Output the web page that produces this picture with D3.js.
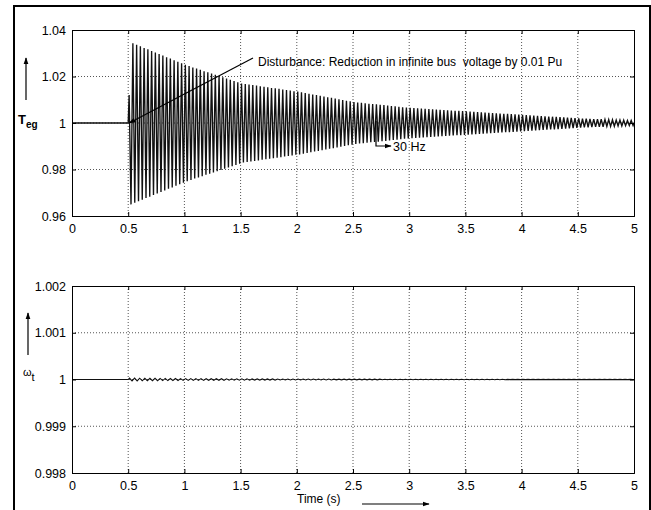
<!DOCTYPE html>
<html>
<head>
<meta charset="utf-8">
<script src="https://cdn.jsdelivr.net/npm/d3@7"></script>
<style>
  body { margin: 0; background: #fff; }
  svg { font-family: "Liberation Sans", Arial, sans-serif; }
  .grid line { stroke: #555; stroke-width: 1; stroke-dasharray: 1,2; }
  .tick text { font-size: 12.5px; fill: #000; }
</style>
</head>
<body>
<svg id="chart" width="651" height="510"></svg>
<script>
// axis ticks
const timeTicks = [0, 0.5, 1, 1.5, 2, 2.5, 3, 3.5, 4, 4.5, 5];
const tegTicks = [0.96, 0.98, 1, 1.02, 1.04];
const omegaTicks = [0.998, 0.999, 1, 1.001, 1.002];

// disturbance time and oscillation frequencies
const tDist = 0.5;
const tegFreq = 30;
const omegaFreq = 22;
const tegFirstPeak = 1.012;

// T_eg peak amplitude per cycle (pu)
const tegAmp = [
  .035, .0343, .0337, .033, .0323, .0317, .031, .0303, .0297, .029, .0283, .0277, .027, .0263, .0257,
  .025, .0245, .0239, .0234, .0229, .0223, .0218, .0213, .0207, .0202, .0197, .0191, .0186, .0181, .0175,
  .017, .0168, .0165, .0163, .0161, .0158, .0156, .0154, .0151, .0149, .0147, .0144, .0142, .014, .0137,
  .0135, .0132, .0129, .0126, .0123, .012, .0117, .0114, .0111, .0108, .0105, .0102, .0099, .0096, .0093,
  .009, .0088, .0087, .0085, .0083, .0082, .008, .0078, .0077, .0075, .0073, .0072, .007, .0068, .0067,
  .0065, .0064, .0063, .0062, .0061, .006, .0059, .0058, .0057, .0056, .0055, .0054, .0053, .0052, .0051,
  .005, .0049, .0048, .0047, .0046, .0045, .0044, .0043, .0042, .0041, .004, .0039, .0038, .0037, .0036,
  .0035, .0034, .0033, .0032, .0031, .003, .0029, .0028, .0027, .0026, .0025, .0024, .0023, .0022, .0021,
  .002, .0019, .0019, .0018, .0017, .0017, .0016, .0015, .0015, .0014, .0013, .0013, .0012, .0011, .0011
];

// omega_t peak amplitude per cycle (x 1e-5 pu)
const omegaAmp = [
  3.0, 2.9, 2.8, 2.7, 2.6, 2.5, 2.4, 2.3, 2.2, 2.1, 2.0,
  1.95, 1.9, 1.85, 1.8, 1.75, 1.7, 1.65, 1.6, 1.55, 1.5, 1.45,
  1.4, 1.36, 1.32, 1.28, 1.24, 1.2, 1.16, 1.12, 1.08, 1.04, 1.0,
  .98, .96, .94, .92, .9, .88, .86, .84, .82, .8, .78,
  .76, .74, .72, .7, .68, .66, .64, .62, .6, .58, .56,
  .55, .54, .53, .52, .51, .5, .49, .48, .47, .46, .45,
  .44, .43, .42, .41, .4, .39, .38, .37, .36, .35, .34,
  .33, .32, .31, .3, .3, .29, .28, .27, .26, .26, .25,
  .24, .23, .23, .22, .21, .21, .2, .19, .19, .18, .18
];

const svg = d3.select("#chart");

// arrowhead marker
svg.append("defs").append("marker")
  .attr("id", "arr").attr("viewBox", "0 0 10 10")
  .attr("refX", 9).attr("refY", 5)
  .attr("markerWidth", 7).attr("markerHeight", 7)
  .attr("markerUnits", "userSpaceOnUse")
  .attr("orient", "auto")
  .append("path").attr("d", "M0,1.5L10,5L0,8.5Z").attr("fill", "#000");

// outer frame (bottom edge runs off the picture)
svg.append("rect").attr("x", 14).attr("y", 6).attr("width", 636).attr("height", 520)
  .attr("fill", "none").attr("stroke", "#000").attr("stroke-width", 2);

function buildSeries(amp, freq, base, scale, first) {
  const pts = [[0, base], [tDist, base]];
  amp.forEach((a, k) => {
    const up = (k === 0 && first != null) ? first : base + a * scale;
    pts.push([tDist + (k + 0.25) / freq, up]);
    pts.push([tDist + (k + 0.75) / freq, base - a * scale]);
  });
  pts.push([5, base]);
  return pts;
}

function drawPanel(id, top, bottom, yTicks, yFmt, pts, lw) {
  const x = d3.scaleLinear().domain([0, 5]).range([72, 634]);
  const y = d3.scaleLinear().domain([yTicks[0], yTicks[yTicks.length - 1]]).range([bottom, top]);
  const g = svg.append("g").attr("id", id);

  // grid
  const grid = g.append("g").attr("class", "grid");
  grid.selectAll("line.v").data(timeTicks.slice(1, -1)).enter().append("line")
    .attr("x1", d => x(d)).attr("x2", d => x(d)).attr("y1", top).attr("y2", bottom);
  grid.selectAll("line.h").data(yTicks.slice(1, -1)).enter().append("line")
    .attr("y1", d => y(d)).attr("y2", d => y(d)).attr("x1", 72).attr("x2", 634);

  // clip
  g.append("clipPath").attr("id", id + "clip").append("rect")
    .attr("x", 72).attr("y", top).attr("width", 562).attr("height", bottom - top);

  g.append("path").datum(pts)
    .attr("clip-path", "url(#" + id + "clip)")
    .attr("fill", "none").attr("stroke", "#111").attr("stroke-width", lw)
    .attr("d", d3.line().x(d => x(d[0])).y(d => y(d[1])));

  // axes with inward ticks on all four sides
  const ax = g.append("g").attr("transform", "translate(0," + bottom + ")")
    .call(d3.axisBottom(x).tickValues(timeTicks).tickSize(-4).tickPadding(6).tickFormat(d3.format("")));
  g.append("g").attr("transform", "translate(0," + top + ")")
    .call(d3.axisTop(x).tickValues(timeTicks).tickSize(-4).tickFormat(""));
  g.append("g").attr("transform", "translate(72,0)")
    .call(d3.axisLeft(y).tickValues(yTicks).tickSize(-4).tickPadding(6).tickFormat(yFmt));
  g.append("g").attr("transform", "translate(634,0)")
    .call(d3.axisRight(y).tickValues(yTicks).tickSize(-4).tickFormat(""));
  g.selectAll(".domain").attr("stroke", "#000");
  g.selectAll(".tick line").attr("stroke", "#000");
  ax.selectAll(".tick text").attr("dy", "0.85em");

  return { x, y };
}

const tegPts = buildSeries(tegAmp, tegFreq, 1, 1, tegFirstPeak);
const omegaPts = buildSeries(omegaAmp, omegaFreq, 1, 1e-5, null);

const fmtTeg = d => d === 1 ? "1" : d3.format(".2f")(d);
const fmtOm = d => d === 1 ? "1" : d3.format(".3f")(d);

const p1 = drawPanel("teg", 30, 216, tegTicks, fmtTeg, tegPts, 1.35);
const p2 = drawPanel("omega", 286, 473, omegaTicks, fmtOm, omegaPts, 1.1);

// y labels with arrows
svg.append("line").attr("x1", 26).attr("y1", 100).attr("x2", 26).attr("y2", 58)
  .attr("stroke", "#000").attr("stroke-width", 1.2).attr("marker-end", "url(#arr)");
const tl = svg.append("text").attr("x", 18).attr("y", 124).attr("font-size", 13).attr("font-weight", "bold");
tl.append("tspan").text("T");
tl.append("tspan").attr("dy", 4).attr("font-size", 10).text("eg");

svg.append("line").attr("x1", 28).attr("y1", 355).attr("x2", 28).attr("y2", 313)
  .attr("stroke", "#000").attr("stroke-width", 1.2).attr("marker-end", "url(#arr)");
const ol = svg.append("text").attr("x", 23).attr("y", 376).attr("font-size", 11);
ol.append("tspan").text("ω");
ol.append("tspan").attr("dy", 5).attr("font-size", 11).text("t");

// x label
svg.append("text").attr("x", 297).attr("y", 503).attr("font-size", 12).text("Time (s)");
svg.append("line").attr("x1", 362).attr("y1", 504).attr("x2", 429).attr("y2", 504)
  .attr("stroke", "#000").attr("stroke-width", 1.2).attr("marker-end", "url(#arr)");

// disturbance annotation
svg.append("line")
  .attr("x1", 253).attr("y1", 58)
  .attr("x2", p1.x(tDist) + 1).attr("y2", p1.y(1))
  .attr("stroke", "#000").attr("stroke-width", 1.2).attr("marker-end", "url(#arr)");
svg.append("text").attr("x", 258).attr("y", 66).attr("font-size", 12)
  .attr("xml:space", "preserve").style("white-space", "pre")
  .text("Disturbance: Reduction in infinite bus  voltage by 0.01 Pu");

// 30 Hz annotation
svg.append("path").attr("d", "M376,121V146H391")
  .attr("fill", "none").attr("stroke", "#000").attr("stroke-width", 1.2).attr("marker-end", "url(#arr)");
svg.append("text").attr("x", 393).attr("y", 151).attr("font-size", 12.5).text("30 Hz");
</script>
</body>
</html>
